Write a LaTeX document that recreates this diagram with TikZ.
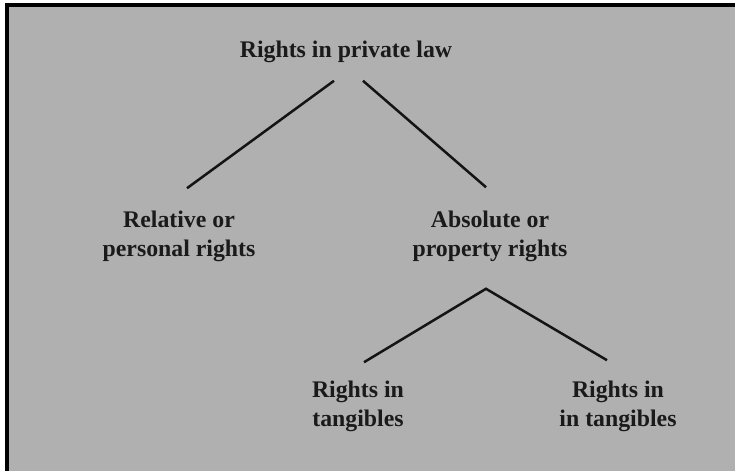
\documentclass[tikz,border=0pt]{standalone}
\usepackage{fontspec}
\setmainfont{Liberation Serif}
\usetikzlibrary{positioning,calc}

\definecolor{panelgray}{HTML}{B0B0B0}
\definecolor{inkgray}{HTML}{1A1A1A}

\begin{document}
\begin{tikzpicture}[
    x=0.5pt, y=-0.5pt,
    term/.style={align=center, inner sep=0pt, text=inkgray, font=\fontsize{11.9}{14.5}\selectfont\bfseries},
    branch/.style={line width=1.25pt, draw=black!92}
]
\useasboundingbox (0,0) rectangle (735,471);
% frame
\draw[line width=2pt, fill=panelgray] (7,5) rectangle (745,473.5);

\node[term] (law) at (346,51.5) {Rights in private law};
\node[term] (rel) at (179,236) {Relative or\\personal rights};
\node[term] (abs) at (490,236) {Absolute or\\property rights};
\node[term] (tang) at (358,406) {Rights in\\tangibles};
\node[term] (intang) at (618,406) {Rights in\\in tangibles};

\draw[branch] ($(law.south)+(-12,18)$) -- ($(rel.north)+(8,-22)$);
\draw[branch] ($(law.south)+(17,18)$) -- ($(abs.north)+(-4,-23)$);
\draw[branch] ($(tang.north)+(6,-18)$) -- ($(abs.south)+(-4,27)$) -- ($(intang.north)+(-11,-20)$);
\end{tikzpicture}
\end{document}
